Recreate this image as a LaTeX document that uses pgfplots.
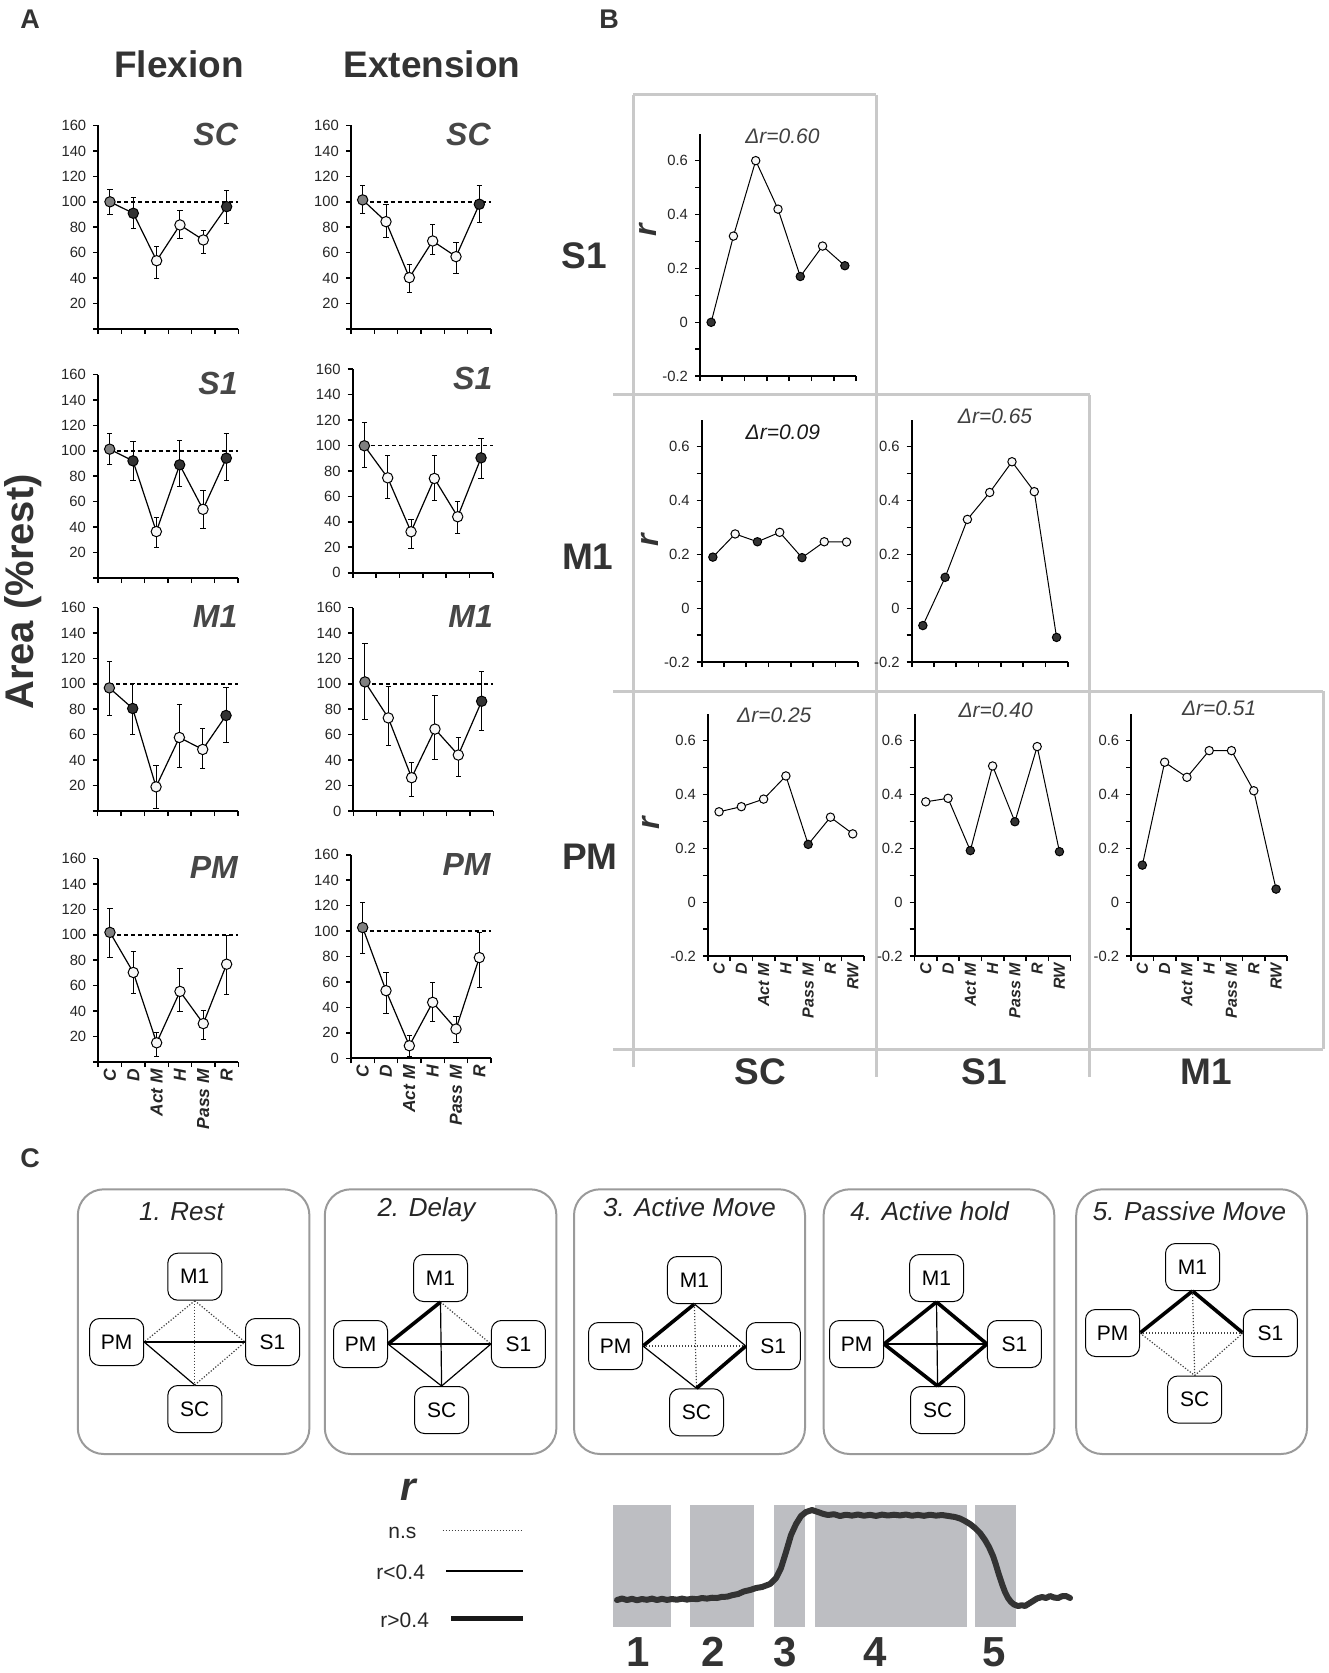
\documentclass[border=0pt]{standalone}
\usepackage{fontspec}
\setmainfont{Liberation Sans}
\usepackage{pgfplots}
\pgfplotsset{compat=1.18}
\definecolor{cg}{HTML}{808080}
\definecolor{cd}{HTML}{333333}
\definecolor{cw}{HTML}{F7F7F7}
\definecolor{gridc}{HTML}{C9C9C9}
\definecolor{ct}{HTML}{333333}
\definecolor{shade}{HTML}{BDBEC2}
\definecolor{boxc}{HTML}{9A9A9A}
\pgfplotsset{
  base/.style={scale only axis, axis lines*=left, clip=false,
    axis line style={line width=1.1pt, black},
    tick align=outside, major tick length=2.5pt,
    tick style={line width=0.8pt, black},
    tick label style={font=\fontsize{7.4}{8}\selectfont, text=black!85},
    /pgf/number format/assume math mode=true},
  Aax/.style={base, anchor=south west, width=70pt, height=101.75pt,
    xmin=0, xmax=6, ymin=0, ymax=160,
    xtick={0,1,2,3,4,5,6}, xticklabels={,,,,,,,},
    ytick={0,20,40,60,80,100,120,140,160}},
  Bax/.style={base, anchor=south west, width=78pt, height=121.25pt,
    xmin=0, xmax=7, ymin=-0.2, ymax=0.7,
    xtick={0,1,2,3,4,5,6,7}, xticklabels={,,,,,,,,,},
    ytick={-0.2,-0.1,0,0.1,0.2,0.3,0.4,0.5,0.6},
    yticklabels={-0.2,,0,,0.2,,0.4,,0.6}},
  noz/.style={yticklabels={,20,40,60,80,100,120,140,160}},
  wz/.style={yticklabels={0,20,40,60,80,100,120,140,160}},
  Alab/.style={extra x ticks={0.5,1.5,2.5,3.5,4.5,5.5},
    extra x tick labels={C,D,Act M,H,Pass M,R},
    extra x tick style={major tick length=0pt,
      tick label style={rotate=90, anchor=east, font=\bfseries\itshape\fontsize{8.7}{9}\selectfont, text=black!85}}},
  Blab/.style={extra x ticks={0.5,1.5,2.5,3.5,4.5,5.5,6.5},
    extra x tick labels={C,D,Act M,H,Pass M,R,RW},
    extra x tick style={major tick length=0pt,
      tick label style={rotate=90, anchor=east, font=\bfseries\itshape\fontsize{8}{9}\selectfont, text=black!85}}},
  refl/.style={black, line width=0.7pt, dash pattern=on 2pt off 1.5pt},
  dline/.style={black, line width=0.6pt, mark=none,
    error bars/y dir=both, error bars/y explicit,
    error bars/error bar style={line width=0.5pt, black},
    error bars/error mark options={rotate=90, mark size=1.3pt, line width=0.5pt, black}},
  bline/.style={black, line width=0.5pt, mark=none},
  pts/.style={only marks, scatter, scatter src=explicit symbolic,
    scatter/classes={g={mark=*, draw=black, fill=cg}, d={mark=*, draw=black, fill=cd}, w={mark=*, draw=black, fill=cw}},
    mark size=#1, mark options={line width=0.5pt}},
  pts/.default=2.6pt,
}
\tikzset{
  ttl/.style={anchor=base east, inner sep=0pt, font=\bfseries\itshape\fontsize{16}{16}\selectfont, text=ct!90},
  dr/.style={anchor=base, inner sep=0pt, font=\itshape\fontsize{10.5}{11}\selectfont, text=black!75},
  gridl/.style={draw=gridc, line width=1.5pt},
  bx/.style={draw=black, line width=0.5pt, rounded corners=5pt, minimum width=27pt, minimum height=23.5pt, inner sep=0pt, font=\fontsize{10.5}{11}\selectfont, fill=white},
  ns/.style={line width=0.6pt, black!75, dash pattern=on 0.6pt off 0.9pt},
  lo/.style={line width=0.6pt, black},
  hi/.style={line width=1.8pt, black},
  obox/.style={draw=boxc, line width=1pt, rounded corners=13pt},
  big/.style={font=\bfseries\fontsize{18.5}{19}\selectfont, text=ct},
}
\begin{document}
\begin{tikzpicture}
\path[use as bounding box] (0,0) rectangle (664pt,-836.5pt);
\begin{scope}[x=0.5pt,y=-0.5pt]
% panel letters and titles
\node[font=\bfseries\fontsize{13.5}{14}\selectfont, text=ct] at (30,19) {A};
\node[font=\bfseries\fontsize{13.5}{14}\selectfont, text=ct] at (609,19) {B};
\node[font=\bfseries\fontsize{13.5}{14}\selectfont, text=ct] at (30,1158) {C};
\node[big] at (179,64) {Flexion};
\node[big] at (432,64) {Extension};
\node[rotate=90, font=\bfseries\fontsize{20}{20}\selectfont, text=ct] at (23,592) {Area (\%rest)};
% panel B grid
\draw[gridl] (633,95) -- (876,95);
\draw[gridl] (613,395) -- (1090,395);
\draw[gridl] (613,691) -- (1323,691);
\draw[gridl] (613,1049) -- (1323,1049);
\draw[gridl] (633,95) -- (633,1067);
\draw[gridl] (876,95) -- (876,1077);
\draw[gridl] (1089,395) -- (1089,1077);
\draw[gridl] (1323,691) -- (1323,1049);
% row / column labels
\node[big] at (584.5,256) {S1};
\node[big] at (587.7,556.8) {M1};
\node[big] at (589.9,856.5) {PM};
\node[big] at (760.5,1072) {SC};
\node[big] at (984.5,1072) {S1};
\node[big] at (1206.4,1072) {M1};
\node[rotate=90, font=\bfseries\itshape\fontsize{16}{16}\selectfont, text=ct] at (648,230) {r};
\node[rotate=90, font=\bfseries\itshape\fontsize{16}{16}\selectfont, text=ct] at (650,540) {r};
\node[rotate=90, font=\bfseries\itshape\fontsize{16}{16}\selectfont, text=ct] at (651,823) {r};
% panel C boxes
\draw[obox] (77.8,1189.3) rectangle (309.4,1454);
\draw[obox] (324.8,1189.3) rectangle (556.4,1454);
\draw[obox] (574,1189.3) rectangle (805,1454);
\draw[obox] (823.6,1189.3) rectangle (1054.3,1454);
\draw[obox] (1076.2,1189.3) rectangle (1307,1454);
\begin{scope}[every node/.style={anchor=base, font=\itshape\fontsize{13}{13}\selectfont, text=black!85}]
\node at (181.5,1220) {1. Rest};
\node at (426.4,1216.7) {2. Delay};
\node at (689.5,1216.7) {3. Active Move};
\node at (929.7,1220) {4. Active hold};
\node at (1189.5,1220) {5. Passive Move};
\end{scope}
% networks
\node[bx] (aM) at (194.8,1276.7) {M1};
\node[bx] (aP) at (116.7,1342) {PM};
\node[bx] (aS) at (272.5,1342) {S1};
\node[bx] (aC) at (194.8,1409) {SC};
\draw[ns] (aM.south) -- (aP.east); \draw[ns] (aM.south) -- (aS.west); \draw[ns] (aM.south) -- (aC.north);
\draw[lo] (aP.east) -- (aS.west); \draw[lo] (aP.east) -- (aC.north); \draw[ns] (aC.north) -- (aS.west);
\node[bx] (bM) at (440.5,1278) {M1};
\node[bx] (bP) at (360.5,1344) {PM};
\node[bx] (bS) at (518.4,1344) {S1};
\node[bx] (bC) at (441.6,1410) {SC};
\draw[hi] (bM.south) -- (bP.east); \draw[ns] (bM.south) -- (bS.west); \draw[lo] (bM.south) -- (bC.north);
\draw[lo] (bP.east) -- (bS.west); \draw[lo] (bP.east) -- (bC.north); \draw[lo] (bC.north) -- (bS.west);
\node[bx] (cM) at (694.4,1280) {M1};
\node[bx] (cP) at (615.5,1346) {PM};
\node[bx] (cS) at (773.3,1346) {S1};
\node[bx] (cC) at (696.5,1412.3) {SC};
\draw[hi] (cM.south) -- (cP.east); \draw[lo] (cM.south) -- (cS.west); \draw[ns] (cM.south) -- (cC.north);
\draw[ns] (cP.east) -- (cS.west); \draw[lo] (cP.east) -- (cC.north); \draw[hi] (cC.north) -- (cS.west);
\node[bx] (dM) at (936.5,1278) {M1};
\node[bx] (dP) at (856.5,1344) {PM};
\node[bx] (dS) at (1014.4,1344) {S1};
\node[bx] (dC) at (937.6,1410) {SC};
\draw[hi] (dM.south) -- (dP.east); \draw[hi] (dM.south) -- (dS.west); \draw[lo] (dM.south) -- (dC.north);
\draw[lo] (dP.east) -- (dS.west); \draw[hi] (dP.east) -- (dC.north); \draw[hi] (dC.north) -- (dS.west);
\node[bx] (eM) at (1192.5,1267) {M1};
\node[bx] (eP) at (1112.5,1333) {PM};
\node[bx] (eS) at (1270.4,1333) {S1};
\node[bx] (eC) at (1194.7,1399.5) {SC};
\draw[hi] (eM.south) -- (eP.east); \draw[hi] (eM.south) -- (eS.west); \draw[ns] (eM.south) -- (eC.north);
\draw[ns] (eP.east) -- (eS.west); \draw[ns] (eP.east) -- (eC.north); \draw[ns] (eC.north) -- (eS.west);
% legend
\node[font=\bfseries\itshape\fontsize{20}{20}\selectfont, text=ct] at (408.5,1490) {r};
\node[anchor=east, font=\fontsize{10.5}{11}\selectfont, text=black!85] at (423.5,1533) {n.s};
\draw[ns] (442.7,1530.7) -- (522.7,1530.7);
\node[anchor=east, font=\fontsize{10.5}{11}\selectfont, text=black!85] at (432,1572) {r<0.4};
\draw[line width=0.8pt] (446,1571) -- (522.7,1571);
\node[anchor=east, font=\fontsize{10.5}{11}\selectfont, text=black!85] at (436,1620) {r>0.4};
\draw[line width=2.5pt, black!90] (451,1618) -- (522.7,1618);
% epoch numbers
\begin{scope}[every node/.style={anchor=base, inner sep=0pt, font=\bfseries\fontsize{21}{21}\selectfont, text=ct}]
\node at (638,1666) {1};
\node at (713.6,1666) {2};
\node at (785,1666) {3};
\node at (874.7,1666) {4};
\node at (994,1666) {5};
\end{scope}
\end{scope}

% ================= Panel A =================
\begin{axis}[Aax, noz, at={(49.15pt,-164.5pt)}]
\addplot[refl] coordinates {(0.5,100) (6,100)};
\addplot[dline] coordinates {(0.5,100) +=(0,10) -=(0,10.3) (1.5,91) +=(0,12.6) -=(0,12) (2.5,53.7) +=(0,10.8) -=(0,13.7) (3.5,81.8) +=(0,11.6) -=(0,10.5) (4.5,70) +=(0,7.4) -=(0,10.5) (5.5,96.2) +=(0,12.8) -=(0,13.6)};
\addplot[pts] coordinates {(0.5,100) [g] (1.5,91) [d] (2.5,53.7) [w] (3.5,81.8) [w] (4.5,70) [w] (5.5,96.2) [d]};
\node[ttl] at (axis cs:6,144) {SC};
\end{axis}
\begin{axis}[Aax, noz, at={(175.5pt,-164.5pt)}]
\addplot[refl] coordinates {(0.5,100) (6,100)};
\addplot[dline] coordinates {(0.5,101.5) +=(0,11) -=(0,11) (1.5,84.4) +=(0,13.4) -=(0,12.5) (2.5,40.4) +=(0,10.6) -=(0,11.5) (3.5,69.2) +=(0,13.2) -=(0,11) (4.5,56.9) +=(0,11) -=(0,12.9) (5.5,98.1) +=(0,14.9) -=(0,14.1)};
\addplot[pts] coordinates {(0.5,101.5) [g] (1.5,84.4) [w] (2.5,40.4) [w] (3.5,69.2) [w] (4.5,56.9) [w] (5.5,98.1) [d]};
\node[ttl] at (axis cs:6,144) {SC};
\end{axis}
\begin{axis}[Aax, noz, at={(49pt,-289pt)}]
\addplot[refl] coordinates {(0.5,100) (6,100)};
\addplot[dline] coordinates {(0.5,101.3) +=(0,12.7) -=(0,12.3) (1.5,92.1) +=(0,15.5) -=(0,15.7) (2.5,36.5) +=(0,11) -=(0,12.3) (3.5,89) +=(0,19) -=(0,17.4) (4.5,54) +=(0,15) -=(0,15) (5.5,94.2) +=(0,19.8) -=(0,17.2)};
\addplot[pts] coordinates {(0.5,101.3) [g] (1.5,92.1) [d] (2.5,36.5) [w] (3.5,89) [d] (4.5,54) [w] (5.5,94.2) [d]};
\node[ttl] at (axis cs:6,144) {S1};
\end{axis}
\begin{axis}[Aax, wz, at={(176.35pt,-286.35pt)}]
\addplot[refl] coordinates {(0.5,100) (6,100)};
\addplot[dline] coordinates {(0.5,99.8) +=(0,18.2) -=(0,17) (1.5,74.6) +=(0,17.4) -=(0,16.2) (2.5,32.2) +=(0,9.8) -=(0,13.2) (3.5,74.1) +=(0,18.3) -=(0,17.1) (4.5,44) +=(0,11.8) -=(0,13.4) (5.5,90.3) +=(0,15.2) -=(0,15.9)};
\addplot[pts] coordinates {(0.5,99.8) [g] (1.5,74.6) [w] (2.5,32.2) [w] (3.5,74.1) [w] (4.5,44) [w] (5.5,90.3) [d]};
\node[ttl] at (axis cs:6,144) {S1};
\end{axis}
\begin{axis}[Aax, noz, at={(48.85pt,-405.5pt)}]
\addplot[refl] coordinates {(0.5,100) (6,100)};
\addplot[dline] coordinates {(0.5,96.8) +=(0,20.4) -=(0,21.4) (1.5,80.6) +=(0,19.9) -=(0,20.4) (2.5,19) +=(0,16.6) -=(0,17) (3.5,57.8) +=(0,25.9) -=(0,23.8) (4.5,48.4) +=(0,16.5) -=(0,14.9) (5.5,75.1) +=(0,22.2) -=(0,21.5)};
\addplot[pts] coordinates {(0.5,96.8) [g] (1.5,80.6) [d] (2.5,19) [w] (3.5,57.8) [w] (4.5,48.4) [w] (5.5,75.1) [d]};
\node[ttl] at (axis cs:6,144) {M1};
\end{axis}
\begin{axis}[Aax, wz, at={(176.65pt,-405.5pt)}]
\addplot[refl] coordinates {(0.5,100) (6,100)};
\addplot[dline] coordinates {(0.5,101.5) +=(0,30.5) -=(0,29.3) (1.5,73.2) +=(0,24.9) -=(0,21.9) (2.5,26.2) +=(0,12.3) -=(0,14.9) (3.5,64.4) +=(0,26.1) -=(0,23.6) (4.5,44) +=(0,13.9) -=(0,17.1) (5.5,86.3) +=(0,23.6) -=(0,22.7)};
\addplot[pts] coordinates {(0.5,101.5) [g] (1.5,73.2) [w] (2.5,26.2) [w] (3.5,64.4) [w] (4.5,44) [w] (5.5,86.3) [d]};
\node[ttl] at (axis cs:6,144) {M1};
\end{axis}
\begin{axis}[Aax, noz, Alab, at={(49.15pt,-531pt)}]
\addplot[refl] coordinates {(0.5,100) (6,100)};
\addplot[dline] coordinates {(0.5,101.9) +=(0,18.8) -=(0,19.5) (1.5,70.4) +=(0,16.6) -=(0,16.7) (2.5,15.1) +=(0,7.9) -=(0,10.4) (3.5,55.5) +=(0,17.7) -=(0,15.6) (4.5,30.2) +=(0,10.2) -=(0,12.2) (5.5,76.9) +=(0,22.9) -=(0,23.7)};
\addplot[pts] coordinates {(0.5,101.9) [g] (1.5,70.4) [w] (2.5,15.1) [w] (3.5,55.5) [w] (4.5,30.2) [w] (5.5,76.9) [w]};
\node[ttl] at (axis cs:6,144) {PM};
\end{axis}
\begin{axis}[Aax, wz, Alab, at={(175.5pt,-529.15pt)}]
\addplot[refl] coordinates {(0.5,100) (6,100)};
\addplot[dline] coordinates {(0.5,102.8) +=(0,19.9) -=(0,20.2) (1.5,53.2) +=(0,14.5) -=(0,18.3) (2.5,9.9) +=(0,7.9) -=(0,8.6) (3.5,44) +=(0,15.8) -=(0,14.7) (4.5,23) +=(0,9.7) -=(0,10.7) (5.5,79.2) +=(0,19.9) -=(0,23.7)};
\addplot[pts] coordinates {(0.5,102.8) [g] (1.5,53.2) [w] (2.5,9.9) [w] (3.5,44) [w] (4.5,23) [w] (5.5,79.2) [w]};
\node[ttl] at (axis cs:6,144) {PM};
\end{axis}

% ================= Panel B =================
\begin{axis}[Bax, at={(350pt,-188.1pt)}]
\addplot[bline] coordinates {(0.5,0) (1.5,0.32) (2.5,0.60) (3.5,0.42) (4.5,0.17) (5.5,0.283) (6.5,0.21)};
\addplot[pts=2.1pt] coordinates {(0.5,0) [d] (1.5,0.32) [w] (2.5,0.60) [w] (3.5,0.42) [w] (4.5,0.17) [d] (5.5,0.283) [w] (6.5,0.21) [d]};
\node[dr] at (axis cs:3.7,0.664) {Δr=0.60};
\end{axis}
\begin{axis}[Bax, at={(350.85pt,-331.1pt)}]
\addplot[bline] coordinates {(0.5,0.19) (1.5,0.276) (2.5,0.247) (3.5,0.282) (4.5,0.188) (5.5,0.247) (6.5,0.246)};
\addplot[pts=2.1pt] coordinates {(0.5,0.19) [d] (1.5,0.276) [w] (2.5,0.247) [d] (3.5,0.282) [w] (4.5,0.188) [d] (5.5,0.247) [w] (6.5,0.246) [w]};
\node[dr, text=black!90] at (axis cs:3.64,0.625) {Δr=0.09};
\end{axis}
\begin{axis}[Bax, at={(455.85pt,-331.1pt)}]
\addplot[bline] coordinates {(0.5,-0.064) (1.5,0.115) (2.5,0.33) (3.5,0.43) (4.5,0.544) (5.5,0.433) (6.5,-0.108)};
\addplot[pts=2.1pt] coordinates {(0.5,-0.064) [d] (1.5,0.115) [d] (2.5,0.33) [w] (3.5,0.43) [w] (4.5,0.544) [w] (5.5,0.433) [w] (6.5,-0.108) [d]};
\node[dr] at (axis cs:3.74,0.687) {Δr=0.65};
\end{axis}
\begin{axis}[Bax, Blab, at={(353.95pt,-478.1pt)}]
\addplot[bline] coordinates {(0.5,0.336) (1.5,0.355) (2.5,0.383) (3.5,0.469) (4.5,0.215) (5.5,0.316) (6.5,0.254)};
\addplot[pts=2.1pt] coordinates {(0.5,0.336) [w] (1.5,0.355) [w] (2.5,0.383) [w] (3.5,0.469) [w] (4.5,0.215) [d] (5.5,0.316) [w] (6.5,0.254) [w]};
\node[dr] at (axis cs:2.98,0.667) {Δr=0.25};
\end{axis}
\begin{axis}[Bax, Blab, at={(457.3pt,-478.1pt)}]
\addplot[bline] coordinates {(0.5,0.373) (1.5,0.386) (2.5,0.192) (3.5,0.506) (4.5,0.299) (5.5,0.578) (6.5,0.188)};
\addplot[pts=2.1pt] coordinates {(0.5,0.373) [w] (1.5,0.386) [w] (2.5,0.192) [d] (3.5,0.506) [w] (4.5,0.299) [d] (5.5,0.578) [w] (6.5,0.188) [d]};
\node[dr] at (axis cs:3.64,0.687) {Δr=0.40};
\end{axis}
\begin{axis}[Bax, Blab, at={(565.6pt,-478.1pt)}]
\addplot[bline] coordinates {(0.5,0.138) (1.5,0.52) (2.5,0.464) (3.5,0.563) (4.5,0.563) (5.5,0.414) (6.5,0.049)};
\addplot[pts=2.1pt] coordinates {(0.5,0.138) [d] (1.5,0.52) [w] (2.5,0.464) [w] (3.5,0.563) [w] (4.5,0.563) [w] (5.5,0.414) [w] (6.5,0.049) [d]};
\node[dr] at (axis cs:3.95,0.692) {Δr=0.51};
\end{axis}

% ================= Panel C trace =================
\begin{axis}[at={(300pt,-815pt)}, anchor=south west, scale only axis, width=240pt, height=65pt,
  xmin=600, xmax=1080, ymin=0, ymax=130, hide axis, clip=false]
\addplot[fill=shade, draw=none] coordinates {(613,3.3) (671.3,3.3) (671.3,125) (613,125)} --cycle;
\addplot[fill=shade, draw=none] coordinates {(690,3.3) (754,3.3) (754,125) (690,125)} --cycle;
\addplot[fill=shade, draw=none] coordinates {(774.2,3.3) (805,3.3) (805,125) (774.2,125)} --cycle;
\addplot[fill=shade, draw=none] coordinates {(814.7,3.3) (966.9,3.3) (966.9,125) (814.7,125)} --cycle;
\addplot[fill=shade, draw=none] coordinates {(975,3.3) (1015.5,3.3) (1015.5,125) (975,125)} --cycle;
\addplot[color=cd, line width=3pt, line join=round, line cap=round] coordinates {
(617,30) (622,31.5) (627,30) (632,31.2) (637,29.8) (642,31) (647,30.2) (652,31.4) (657,30) (662,31.2) (667,30.1) (672,31) (677,30.3) (682,31.4) (687,30.4) (692,31.3) (697,30.8) (702,32) (707,31.4) (712,32.3) (717,32) (722,33.2) (727,33.3) (732,34.8) (738,36) (744,38.6) (750,40) (756,42) (762,43) (770,46) (776,52) (781,62) (786,78) (791,95) (796,106) (801,114) (806,118) (812,120) (818,118) (823,116.2) (828,115) (834,115.8) (840,114) (846,115.3) (852,114.4) (858,115.5) (864,114.3) (870,115.2) (876,114.1) (882,115.4) (888,114.5) (894,115.3) (900,114.6) (906,115.5) (912,114.3) (918,115.1) (924,114.2) (930,115.3) (936,114.4) (942,115) (948,114.1) (955,113) (960,111.5) (965,109) (970,106) (975,102) (980,97) (985,90) (989,83) (993,74) (996,65) (999,55) (1002,46) (1005,38) (1008,32) (1011,28) (1014,25.5) (1018,24) (1022,24.8) (1025,24) (1029,26.5) (1033,29) (1037,31.5) (1042,33) (1046,32) (1050,34) (1054,32.5) (1058,32) (1062,33.8) (1066,34) (1070,32)};
\end{axis}
\end{tikzpicture}
\end{document}
